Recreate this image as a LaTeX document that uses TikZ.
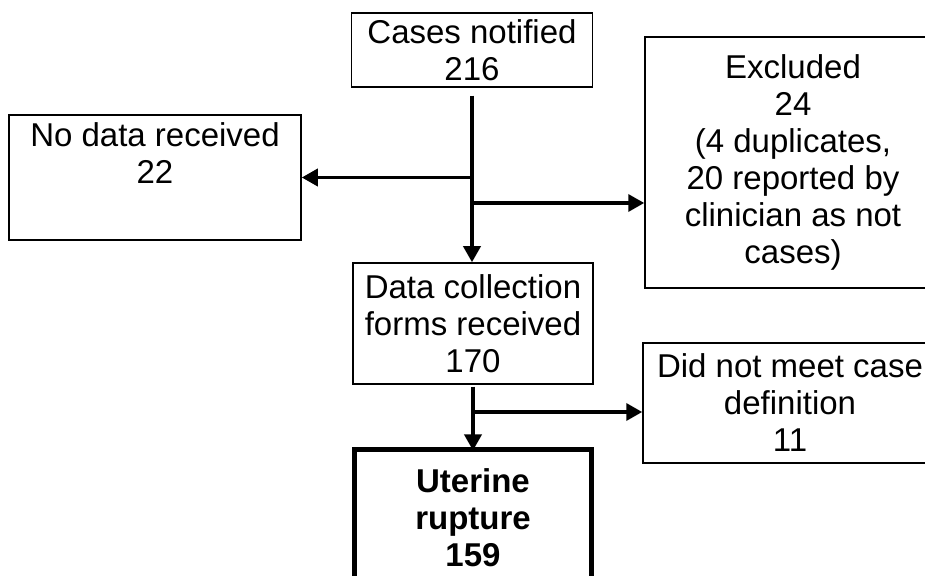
\documentclass[tikz,border=0pt]{standalone}
\usepackage{fontspec}
\setmainfont{Liberation Sans}
\usetikzlibrary{arrows.meta}

\tikzset{
    box/.style={draw, rectangle, line width=0.75pt, align=center, inner sep=0pt,
        font=\fontsize{16.5}{18.5}\selectfont},
    conn/.style={line width=1.75pt, -{Triangle[width=8.5pt,length=8pt]}}
}

\begin{document}
\begin{tikzpicture}[x=0.5pt,y=-0.5pt]
    \useasboundingbox (0,0) rectangle (925,576);
    % boxes
    \node[box, minimum width=120.5pt, minimum height=37pt] (notif) at (472,50) {Cases notified\\216};
    \node[box, minimum width=146pt, minimum height=62.5pt] (nodata) at (155,177.5) {No data received\\22\\ \strut};
    \node[box, minimum width=148pt, minimum height=125.5pt] (excl) at (793,162.5)
        {Excluded\\24\\ (4 duplicates,\\20 reported by\\clinician as not\\cases)};
    \node[box, minimum width=120pt, minimum height=60.5pt] (data) at (473,323.5)
        {Data collection\\forms received\\170};
    \node[box, minimum width=147pt, minimum height=60pt] (notmeet) at (790,403)
        {Did not meet case\\definition\\11};
    \node[box, line width=2.5pt, minimum width=118.75pt, minimum height=67.5pt] (uter) at (473,517.5)
        {\bfseries Uterine\\\bfseries rupture\\\bfseries 159};
    % branch points
    \coordinate (exclin) at ([yshift=-20.25pt]excl.west);
    \coordinate (nmin) at ([yshift=-4.5pt]notmeet.west);
    % main line
    \draw[conn] ([yshift=-4pt]notif.south) -- (notif.south |- data.north);
    \draw[conn] (notif.south |- nodata.east) -- (nodata.east);
    \draw[conn] (notif.south |- exclin) -- (exclin);
    \draw[conn] ([yshift=-1pt]data.south) -- ([yshift=-1.5pt]uter.north);
    \draw[conn] (data.south |- nmin) -- (nmin);
\end{tikzpicture}
\end{document}
